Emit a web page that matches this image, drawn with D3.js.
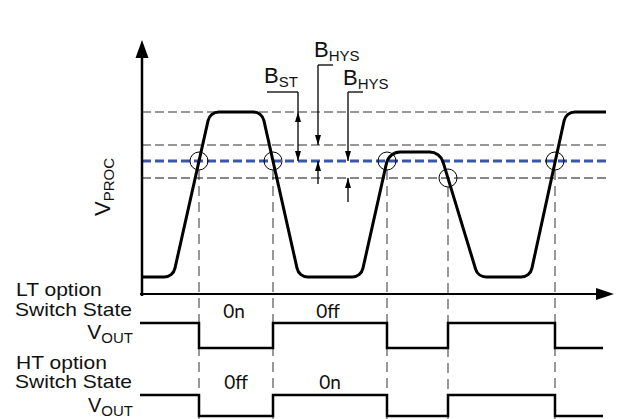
<!DOCTYPE html>
<html>
<head>
<meta charset="utf-8">
<script src="https://cdn.jsdelivr.net/npm/d3@7"></script>
<style>
body{margin:0;background:#fff}
text{font-family:"Liberation Sans",Arial,sans-serif;fill:#111}
</style>
</head>
<body>
<script>
var WIDTH=618,HEIGHT=419

// waveform of V_PROC (time units, level units)
var waveT=[0,31,68,120,157,219,247,298,336,388,424,464],
	waveV=[17,17,182,182,17,17,142,142,17,17,182,182]

// dashed threshold levels, top to bottom
var levelV=[182,149,133,116]

// switching points
var crossT=[57,131,245,306,413],
	crossV=[133,133,133,116,133]

// output states
var stateT=[-2,57,131,245,306,413,461],
	stateLT=[1,0,1,0,1,0,0],
	stateHT=[1,0,1,0,1,0,0]

var ltLabels=['0n','0ff'],
	htLabels=['0ff','0n']

var xScale=d3.scaleLinear().domain([0,464]).range([142,606])
var yScale=d3.scaleLinear().domain([0,280]).range([294,14])
var ltScale=d3.scaleLinear().domain([0,1]).range([348,323])
var htScale=d3.scaleLinear().domain([0,1]).range([416,395])

var svg=d3.select('body').append('svg')
	.attr('width',WIDTH).attr('height',HEIGHT)

function arrowHead(x,y,dir,w,l){
	var p=d3.path()
	if(dir=='up'){p.moveTo(x,y);p.lineTo(x-w/2,y+l);p.lineTo(x+w/2,y+l)}
	if(dir=='down'){p.moveTo(x,y);p.lineTo(x-w/2,y-l);p.lineTo(x+w/2,y-l)}
	if(dir=='right'){p.moveTo(x,y);p.lineTo(x-l,y-w/2);p.lineTo(x-l,y+w/2)}
	p.closePath()
	svg.append('path').attr('d',p.toString()).attr('fill','#000')
}

// vertical dashed guides
svg.selectAll('.guide').data(crossT).enter().append('line')
	.attr('x1',function(d){return xScale(d)})
	.attr('x2',function(d){return xScale(d)})
	.attr('y1',function(d,i){return yScale(crossV[i])+9})
	.attr('y2',HEIGHT)
	.attr('stroke','#444').attr('stroke-width',1.1)
	.attr('stroke-dasharray','10,6')

// horizontal dashed levels
var levelColor=['#777','#777','#3b56a8','#111'],
	levelWidth=[1.6,1.6,3,1.2]
svg.selectAll('.level').data(levelV).enter().append('line')
	.attr('x1',xScale(0)).attr('x2',xScale(464))
	.attr('y1',function(d){return yScale(d)})
	.attr('y2',function(d){return yScale(d)})
	.attr('stroke',function(d,i){return levelColor[i]})
	.attr('stroke-width',function(d,i){return levelWidth[i]})
	.attr('stroke-dasharray','9,4')

// axes
svg.append('line').attr('x1',xScale(0)).attr('x2',xScale(0))
	.attr('y1',yScale(-2)).attr('y2',yScale(238))
	.attr('stroke','#000').attr('stroke-width',2.5)
arrowHead(xScale(0),yScale(254),'up',13,18)
svg.append('line').attr('x1',xScale(-2)).attr('x2',xScale(456))
	.attr('y1',yScale(0)).attr('y2',yScale(0))
	.attr('stroke','#000').attr('stroke-width',2.2)
arrowHead(xScale(472),yScale(0),'right',12,18)

// waveform with rounded corners
var pts=waveT.map(function(t,i){return [xScale(t),yScale(waveV[i])]})
var wp=d3.path()
wp.moveTo(pts[0][0],pts[0][1])
for(var i=1;i<pts.length-1;i++){
	wp.arcTo(pts[i][0],pts[i][1],pts[i+1][0],pts[i+1][1],i==6||i==7?14:11)
}
wp.lineTo(pts[pts.length-1][0],pts[pts.length-1][1])
svg.append('path').attr('d',wp.toString())
	.attr('fill','none').attr('stroke','#000').attr('stroke-width',3)

// switching circles
svg.selectAll('.cross').data(crossT).enter().append('circle')
	.attr('cx',function(d){return xScale(d)})
	.attr('cy',function(d,i){return yScale(crossV[i])})
	.attr('r',9).attr('fill','none').attr('stroke','#000').attr('stroke-width',1)

// annotation arrows
function vline(t,v1,v2){
	svg.append('line').attr('x1',xScale(t)).attr('x2',xScale(t))
		.attr('y1',yScale(v1)).attr('y2',yScale(v2))
		.attr('stroke','#000').attr('stroke-width',1.3)
}
function hline(t1,t2,v){
	svg.append('line').attr('x1',xScale(t1)).attr('x2',xScale(t2))
		.attr('y1',yScale(v)).attr('y2',yScale(v))
		.attr('stroke','#000').attr('stroke-width',1.3)
}
// B_ST
hline(125,156,202); vline(156,202,133)
arrowHead(xScale(156),yScale(182),'up',6,10)
arrowHead(xScale(156),yScale(133),'down',6,10)
// B_HYS upper
hline(176,191,229); vline(176,229,149)
arrowHead(xScale(176),yScale(149),'down',6,10)
vline(176,110,133); arrowHead(xScale(176),yScale(133),'up',6,10)
// B_HYS lower
hline(206,221,202); vline(206,202,133)
arrowHead(xScale(206),yScale(133),'down',6,10)
vline(206,92,116); arrowHead(xScale(206),yScale(116),'up',6,10)

function subLabel(x,y,main,sub,anchor,size){
	var t=svg.append('text').attr('x',x).attr('y',y).attr('text-anchor',anchor||'start')
	t.append('tspan').text(main).style('font-size',(size||22)+'px')
	t.append('tspan').text(sub).attr('dy',4).style('font-size','15px')
	return t
}
subLabel(xScale(122),yScale(211),'B','ST')
subLabel(xScale(172),yScale(237),'B','HYS')
subLabel(xScale(201),yScale(209),'B','HYS')

// V_PROC label
var vp=svg.append('text').attr('transform','translate(110,216) rotate(-90)')
vp.append('tspan').text('V').style('font-size','22px')
vp.append('tspan').text('PROC').attr('dy',4).style('font-size','15px')

// output signals
var stepLine=function(sc){
	return d3.line().x(function(d){return xScale(d[0])}).y(function(d){return sc(d[1])})
		.curve(d3.curveStepAfter)
}
svg.append('path').attr('d',stepLine(ltScale)(stateT.map(function(t,i){return [t,stateLT[i]]})))
	.attr('fill','none').attr('stroke','#000').attr('stroke-width',2.5)
svg.append('path').attr('d',stepLine(htScale)(stateT.map(function(t,i){return [t,stateHT[i]]})))
	.attr('fill','none').attr('stroke','#000').attr('stroke-width',2.5)

// row labels
function rowText(x,y,s){
	svg.append('text').attr('x',x).attr('y',y).text(s).style('font-size','18px')
		.attr('transform','translate('+x+',0) scale(1.17,1) translate('+(-x)+',0)')
}
rowText(16,296,'LT option')
rowText(15,316,'Switch State')
rowText(16,369,'HT option')
rowText(15,388,'Switch State')
subLabel(133,339,'V','OUT','end',21)
subLabel(133,412,'V','OUT','end',20)

// state labels
var mids=[(crossT[0]+crossT[1])/2,(crossT[1]+crossT[2])/2]
svg.selectAll('.lt').data(ltLabels).enter().append('text')
	.attr('x',function(d,i){return xScale(mids[i])-2}).attr('y',318)
	.attr('text-anchor','middle').style('font-family','Lato').style('font-size','19px')
	.text(function(d){return d})
svg.selectAll('.ht').data(htLabels).enter().append('text')
	.attr('x',function(d,i){return xScale(mids[i])}).attr('y',389)
	.attr('text-anchor','middle').style('font-family','Lato').style('font-size','19px')
	.text(function(d){return d})
</script>
</body>
</html>
